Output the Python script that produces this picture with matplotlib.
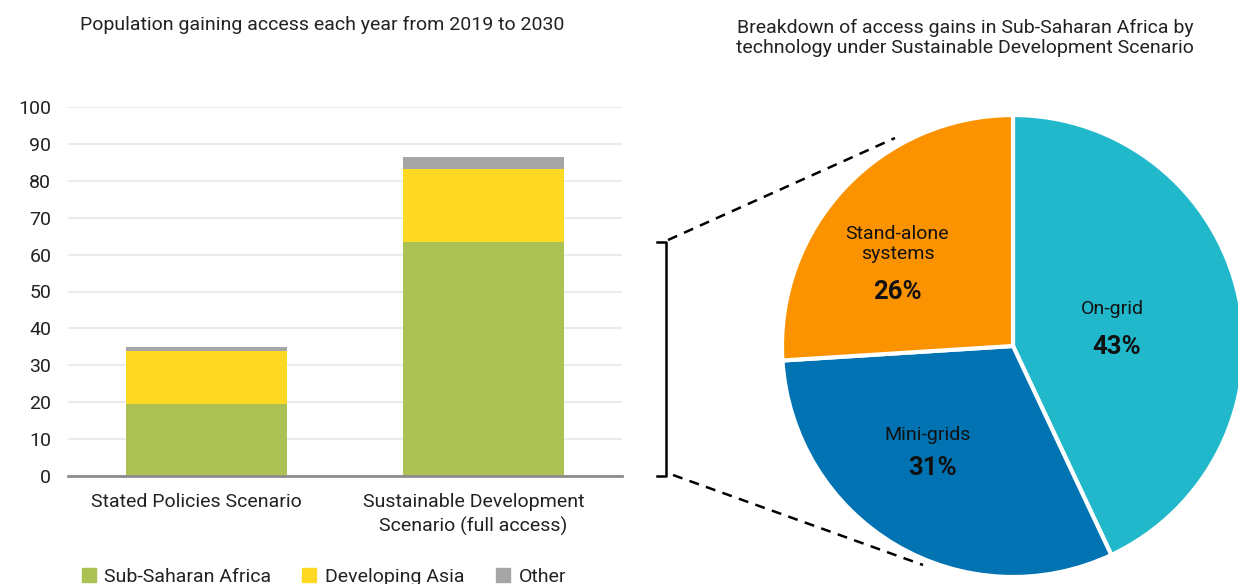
import matplotlib
matplotlib.use("Agg")
import matplotlib.pyplot as plt
from matplotlib.lines import Line2D
from matplotlib.patches import Patch
import matplotlib.transforms as mtransforms

plt.rcParams['font.family'] = ['Roboto', 'DejaVu Sans']

# bar data (million people per year)
scenarios = ['Stated Policies Scenario', 'Sustainable Development\nScenario (full access)']
ssa = [19.5, 63.5]
dev_asia = [14.4, 19.7]
other = [1.1, 3.3]

# pie data (share of Sub-Saharan Africa gains)
tech = ['On-grid', 'Mini-grids', 'Stand-alone\nsystems']
shares = [43, 31, 26]

c_ssa, c_asia, c_other = '#ABC153', '#FDD924', '#A5A5A5'
pie_colors = ['#21B8CB', '#0173B3', '#FB9300']

W, H = 1238, 584
fig = plt.figure(figsize=(W / 100, H / 100), dpi=100)

# ---- bar chart ----
ax = fig.add_axes([68 / W, 1 - 476 / H, 554 / W, 369 / H])
x = range(len(scenarios))
bw = 0.58
ax.bar(x, ssa, bw, color=c_ssa, zorder=3)
ax.bar(x, dev_asia, bw, bottom=ssa, color=c_asia, zorder=3)
tops = [a + b for a, b in zip(ssa, dev_asia)]
ax.bar(x, other, bw, bottom=tops, color=c_other, zorder=3)

ax.set_xlim(-0.5, 1.5)
ax.set_ylim(0, 100)
ax.set_yticks(range(0, 101, 10))
ax.set_xticks(list(x))
ax.set_xticklabels(scenarios, fontsize=14, color='#222222', linespacing=1.4)
ax.tick_params(axis='y', length=0, pad=12, labelsize=14, labelcolor='#222222')
ax.tick_params(axis='x', length=0, pad=12)
# category labels sit slightly left of the bar centres in the original
shift = mtransforms.ScaledTranslation(-10 / 100, 0, fig.dpi_scale_trans)
for lbl in ax.get_xticklabels():
    lbl.set_transform(lbl.get_transform() + shift)
ax.grid(axis='y', color='#EBEBEB', linewidth=1.5, zorder=0)
for s in ['top', 'right', 'left']:
    ax.spines[s].set_visible(False)
ax.spines['bottom'].set_color('#8C8C8C')
ax.spines['bottom'].set_linewidth(2)
ax.spines['bottom'].set_zorder(4)

fig.text(322 / W, 1 - 25 / H, 'Population gaining access each year from 2019 to 2030',
         ha='center', va='center', fontsize=14, color='#222222')

handles = [Patch(color=c_ssa, label='Sub-Saharan Africa'),
           Patch(color=c_asia, label='Developing Asia'),
           Patch(color=c_other, label='Other')]
fig.legend(handles=handles, loc='center left', bbox_to_anchor=(64 / W, 1 - 577 / H),
           ncol=3, frameon=False, fontsize=14, handlelength=0.72, handleheight=0.72,
           handletextpad=0.45, columnspacing=1.6, labelcolor='#222222')

# bracket spanning SSA part of second bar
bt = mtransforms.blended_transform_factory(fig.transFigure, ax.transData)
xb, xt = 666 / W, 657 / W
ax.add_line(Line2D([xt, xb, xb, xt], [ssa[1], ssa[1], 0, 0], transform=bt,
                   color='black', linewidth=1.8, clip_on=False))

# ---- pie chart ----
cx, cy, r = 1013, 346, 231
pax = fig.add_axes([(cx - r) / W, 1 - (cy + r) / H, 2 * r / W, 2 * r / H])
pax.pie(shares, colors=pie_colors, startangle=90, counterclock=False, radius=1,
        wedgeprops=dict(edgecolor='white', linewidth=3))
pax.set_xlim(-1, 1)
pax.set_ylim(-1, 1)
pax.set_aspect('equal')
pax.axis('off')

lab_pos = [(0.43, 0.16), (-0.37, -0.385), (-0.50, 0.44)]
pct_pos = [(0.45, -0.004), (-0.35, -0.53), (-0.50, 0.234)]
for name, pct, lp, pp in zip(tech, shares, lab_pos, pct_pos):
    pax.text(*lp, name, ha='center', va='center', fontsize=14, color='#111111',
             linespacing=1.15)
    pax.text(*pp, f'{pct}%', ha='center', va='center', fontsize=18.5,
             fontweight='bold', color='#111111')

fig.text(965 / W, 1 - 38 / H,
         'Breakdown of access gains in Sub-Saharan Africa by\ntechnology under Sustainable Development Scenario',
         ha='center', va='center', fontsize=14, color='#222222', linespacing=1.1)

# dashed connector lines
fig.add_artist(Line2D([668 / W, 895 / W], [1 - 240 / H, 1 - 138 / H],
                      transform=fig.transFigure, color='black', linewidth=1.8,
                      linestyle=(0, (4, 3))))
fig.add_artist(Line2D([673 / W, 923 / W], [1 - 475 / H, 1 - 565 / H],
                      transform=fig.transFigure, color='black', linewidth=1.8,
                      linestyle=(0, (4, 3))))

fig.savefig('out.png', dpi=100)
